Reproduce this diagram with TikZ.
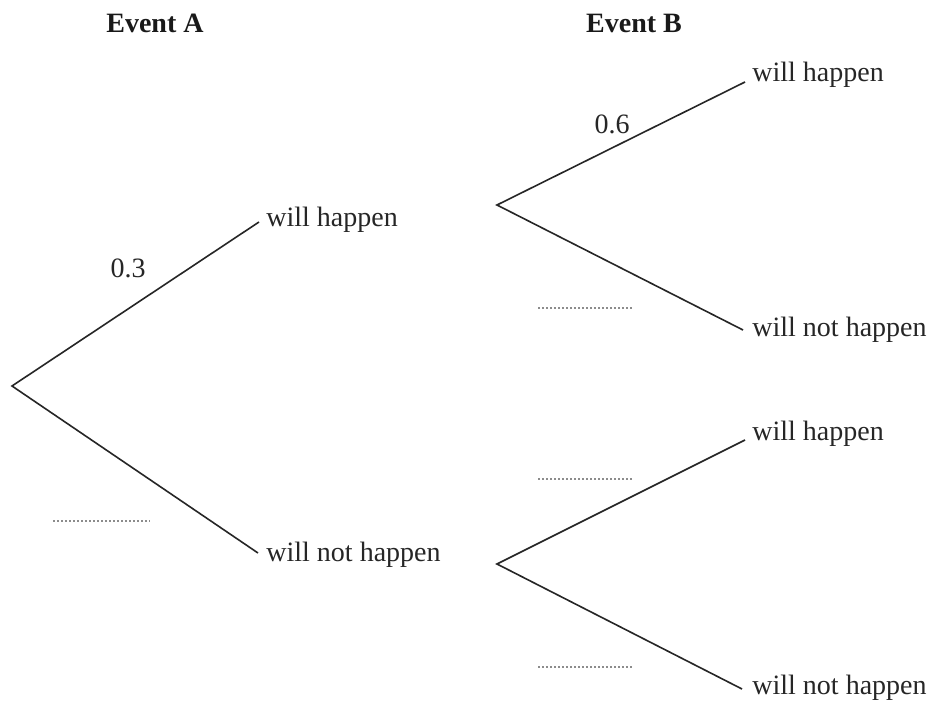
\documentclass[tikz,border=0pt]{standalone}
\usepackage{fontspec}
\setmainfont{Liberation Serif}
\begin{document}
\begin{tikzpicture}[x=0.5pt,y=-0.5pt,
  branch/.style={line width=0.8pt, color=black!85},
  lbl/.style={anchor=west, inner sep=0pt, font=\fontsize{14}{16}\selectfont, text=black!85},
  prob/.style={inner sep=0pt, font=\fontsize{14}{16}\selectfont, text=black!85},
  head/.style={inner sep=0pt, font=\fontsize{14}{16}\selectfont\bfseries, text=black!90},
  blank/.style={line width=0.6pt, color=black!45, dash pattern=on 1pt off 1pt}]
\useasboundingbox[fill=white] (0,0) rectangle (933,706);
% headings
\node[head] (hA) at (155,23) {Event A};
\node[head] (hB) at (634,23) {Event B};
% roots
\coordinate (r) at (12,386);
\coordinate (b1) at (497,205);
\coordinate (b2) at (497,564);
% labels
\node[lbl] (a1) at (266,220) {will happen};
\node[lbl] (a2) at (266,555) {will not happen};
\node[lbl] (c1) at (752,75) {will happen};
\node[lbl] (c2) at (752,330) {will not happen};
\node[lbl] (c3) at (752,434) {will happen};
\node[lbl] (c4) at (752,688) {will not happen};
% branches
\coordinate (ea1) at (259,222);
\coordinate (ea2) at (258,553);
\coordinate (ec1) at (745,82);
\coordinate (ec2) at (743,330);
\coordinate (ec3) at (745,440);
\coordinate (ec4) at (742,689);
\draw[branch] (ea1) -- (r) -- (ea2);
\draw[branch] (ec1) -- (b1) -- (ec2);
\draw[branch] (ec3) -- (b2) -- (ec4);
% probabilities
\node[prob] (p1) at (128,268) {0.3};
\node[prob] (p2) at (612,124) {0.6};
% blanks
\coordinate (d1s) at (53,521);  \coordinate (d1e) at (150,521);
\coordinate (d2s) at (538,308); \coordinate (d2e) at (634,308);
\coordinate (d3s) at (538,479); \coordinate (d3e) at (634,479);
\coordinate (d4s) at (538,667); \coordinate (d4e) at (634,667);
\draw[blank] (d1s) -- (d1e);
\draw[blank] (d2s) -- (d2e);
\draw[blank] (d3s) -- (d3e);
\draw[blank] (d4s) -- (d4e);
\end{tikzpicture}
\end{document}
